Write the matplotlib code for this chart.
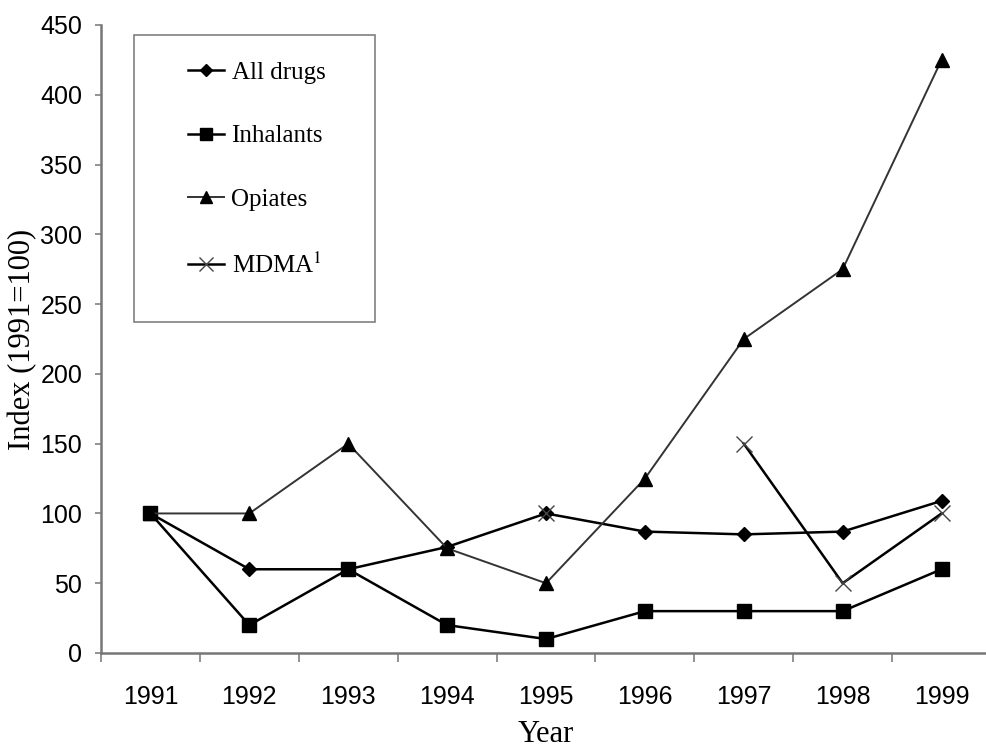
import numpy as np
import matplotlib
matplotlib.use('Agg')
import matplotlib.pyplot as plt
from matplotlib.patches import Rectangle

# Datos (índice 1991=100)
anios = ['1991', '1992', '1993', '1994', '1995', '1996', '1997', '1998', '1999']
all_drugs = [100, 60, 60, 76, 100, 87, 85, 87, 109]
inhalants = [100, 20, 60, 20, 10, 30, 30, 30, 60]
opiates = [100, 100, 150, 75, 50, 125, 225, 275, 425]
mdma = [np.nan, np.nan, np.nan, np.nan, 100, np.nan, 150, 50, 100]

plt.rcParams['mathtext.fontset'] = 'stix'

fig = plt.figure(figsize=(9.86, 7.49), dpi=100)
# el eje x sigue un poco más allá del borde derecho, como en el original
ax = fig.add_axes([101 / 986, 96 / 749, 890 / 986, 628 / 749])

x = np.arange(len(anios))
ax.plot(x, all_drugs, color='black', lw=1.8, marker='D', ms=7, label='All drugs')
ax.plot(x, inhalants, color='black', lw=1.8, marker='s', ms=10, label='Inhalants')
ax.plot(x, opiates, color='#333333', lw=1.4, marker='^', ms=10, mfc='black', mec='black', label='Opiates')
ax.plot(x, mdma, color='black', lw=1.8, marker='x', ms=11, mew=1.0, mec='#444444', label='MDMA$^{1}$')

ax.set_ylim(0, 450)
ax.set_yticks(range(0, 451, 50))
ax.set_xlim(-0.5, len(anios) - 0.5)
ax.set_xticks(x)
ax.set_xticklabels(anios)
ax.set_xticks(np.arange(-0.5, len(anios), 1), minor=True)
ax.tick_params(axis='x', which='major', length=0, pad=23)
ax.tick_params(axis='x', which='minor', length=6.5, width=1.2, color='#808080')
ax.tick_params(axis='y', length=4.5, width=1.2, color='#808080', pad=9)
for lab in ax.get_xticklabels() + ax.get_yticklabels():
    lab.set_fontfamily('Liberation Sans')
    lab.set_fontsize(18)

for lado in ['top', 'right']:
    ax.spines[lado].set_visible(False)
for lado in ['left', 'bottom']:
    ax.spines[lado].set_color('#777777')
    ax.spines[lado].set_linewidth(1.8)

ax.set_xlabel('Year', family='Liberation Serif', fontsize=22, labelpad=8)
ax.set_ylabel('Index (1991=100)', family='Liberation Serif', fontsize=22, labelpad=2)

# leyenda sin marco + recuadro aparte (más ancho que alto en relleno)
leg = ax.legend(loc='upper left', bbox_to_anchor=(87 / 890, 592 / 628), frameon=False,
                labelspacing=1.65, handlelength=1.44, handletextpad=0.3,
                borderpad=0, borderaxespad=0,
                prop={'family': 'Liberation Serif', 'size': 18}, markerscale=0.9)
ax.add_patch(Rectangle((33 / 890, 331 / 628), 241 / 890, 287 / 628, transform=ax.transAxes,
                       fill=False, edgecolor='#808080', lw=1.2, zorder=1))

plt.savefig('out.png', dpi=100)
